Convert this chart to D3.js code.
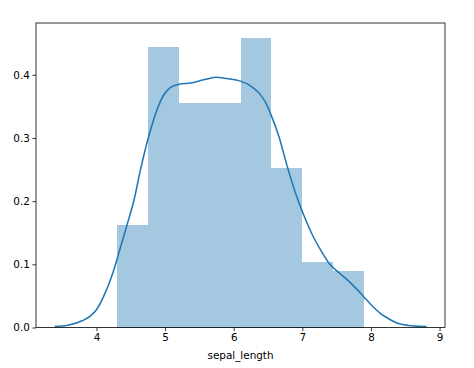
<!DOCTYPE html>
<html>
<head>
<meta charset="utf-8">
<script src="https://cdn.jsdelivr.net/npm/d3@7"></script>
<style>
  body { margin: 0; background: #fff; }
  svg text { font-family: "DejaVu Sans", sans-serif; }
</style>
</head>
<body>
<div id="chart"></div>
<script>
// histogram bins (sepal_length) and density per bin
const binEdges = [4.3, 4.75, 5.2, 5.65, 6.1, 6.55, 7.0, 7.45, 7.9];
const binDensity = [0.163, 0.444, 0.356, 0.356, 0.459, 0.252, 0.104, 0.089];

// kde curve
const kdeX = [3.39, 3.6, 3.8, 3.91, 4.0, 4.1, 4.25, 4.35, 4.45, 4.55, 4.64, 4.76, 4.88, 4.98, 5.08, 5.2, 5.37, 5.56, 5.74, 5.9, 6.1, 6.24, 6.37, 6.46, 6.55, 6.66, 6.78, 6.9, 7.02, 7.14, 7.27, 7.4, 7.52, 7.66, 7.8, 7.9, 8.02, 8.14, 8.24, 8.36, 8.48, 8.65, 8.81];
const kdeY = [0.0015, 0.004, 0.011, 0.018, 0.028, 0.048, 0.09, 0.127, 0.164, 0.203, 0.249, 0.302, 0.344, 0.368, 0.380, 0.385, 0.387, 0.392, 0.396, 0.394, 0.390, 0.383, 0.371, 0.357, 0.335, 0.302, 0.255, 0.213, 0.178, 0.148, 0.122, 0.100, 0.088, 0.075, 0.060, 0.048, 0.034, 0.022, 0.015, 0.008, 0.0043, 0.0022, 0.0016];

const xTicks = [4, 5, 6, 7, 8, 9];
const yTicks = [0.0, 0.1, 0.2, 0.3, 0.4];
const xLabel = "sepal_length";

const width = 474, height = 368;
const margin = { top: 23, right: 29, bottom: 40.5, left: 36 };
const innerWidth = width - margin.left - margin.right;
const innerHeight = height - margin.top - margin.bottom;

const svg = d3.select("#chart").append("svg")
  .attr("width", width)
  .attr("height", height);

const g = svg.append("g")
  .attr("transform", `translate(${margin.left},${margin.top})`);

// Échelles
const x = d3.scaleLinear().domain([3.119, 9.079]).range([0, innerWidth]);
const y = d3.scaleLinear().domain([0, 0.482]).range([innerHeight, 0]);

// barres : un seul chemin pour éviter les jointures visibles
const bins = binDensity.map((d, i) => ({ x0: binEdges[i], x1: binEdges[i + 1], d }));
const barPath = d3.path();
bins.forEach(b => {
  barPath.rect(x(b.x0), y(b.d), x(b.x1) - x(b.x0), y(0) - y(b.d));
});
g.append("path")
  .attr("d", barPath.toString())
  .attr("fill", "#a5c8e1")
  .attr("shape-rendering", "crispEdges");

// courbe kde
const kde = kdeX.map((v, i) => [v, kdeY[i]]);
g.append("path")
  .datum(kde)
  .attr("fill", "none")
  .attr("stroke", "#1f77b4")
  .attr("stroke-width", 1.55)
  .attr("d", d3.line().x(d => x(d[0])).y(d => y(d[1])).curve(d3.curveMonotoneX));

// axes
const axisB = d3.axisBottom(x).tickValues(xTicks).tickFormat(d3.format("d"))
  .tickSize(3.6).tickPadding(2.6);
const axisL = d3.axisLeft(y).tickValues(yTicks).tickFormat(d3.format(".1f"))
  .tickSize(3.6).tickPadding(2.6);

const xAxis = g.append("g").attr("transform", `translate(0,${innerHeight})`).call(axisB);
const yAxis = g.append("g").call(axisL);
[xAxis, yAxis].forEach(a => {
  a.select(".domain").remove();
  a.selectAll("line").attr("stroke", "#000").attr("stroke-width", 0.8);
  a.selectAll("text").attr("fill", "#000").style("font-size", "10.4px");
});

// cadre
g.append("rect")
  .attr("x", 0).attr("y", 0)
  .attr("width", innerWidth).attr("height", innerHeight)
  .attr("fill", "none")
  .attr("stroke", "#000")
  .attr("stroke-width", 0.8);

g.append("text")
  .attr("x", innerWidth / 2)
  .attr("y", innerHeight + 31)
  .attr("text-anchor", "middle")
  .style("font-size", "10.4px")
  .attr("fill", "#000")
  .text(xLabel);
</script>
</body>
</html>
